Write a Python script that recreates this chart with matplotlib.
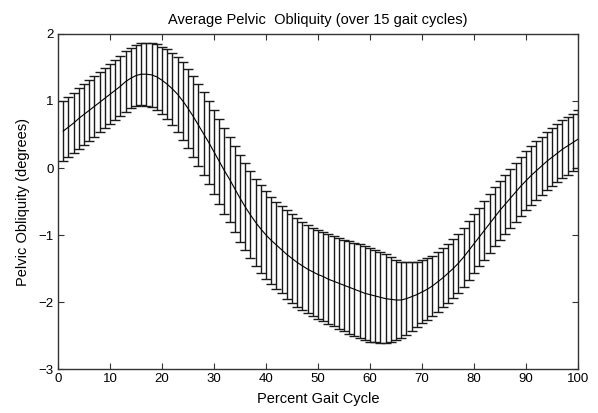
import numpy as np
import matplotlib
matplotlib.use("Agg")
import matplotlib.pyplot as plt

# percent gait cycle, 1..100
pct = list(range(1, 101))

# mean pelvic obliquity (degrees)
mean_obl = [
    0.55, 0.61, 0.67, 0.74, 0.80, 0.86, 0.92, 0.98, 1.04, 1.10,
    1.16, 1.22, 1.29, 1.34, 1.38, 1.40, 1.40, 1.39, 1.36, 1.31,
    1.25, 1.18, 1.10, 1.00, 0.89, 0.77, 0.64, 0.51, 0.38, 0.24,
    0.10, -0.04, -0.17, -0.31, -0.45, -0.58, -0.70, -0.81, -0.91, -1.00,
    -1.08, -1.15, -1.22, -1.29, -1.35, -1.41, -1.46, -1.51, -1.55, -1.59,
    -1.62, -1.66, -1.69, -1.72, -1.75, -1.78, -1.81, -1.84, -1.87, -1.89,
    -1.91, -1.93, -1.95, -1.96, -1.97, -1.97, -1.95, -1.92, -1.89, -1.85,
    -1.81, -1.76, -1.70, -1.64, -1.57, -1.50, -1.42, -1.33, -1.23, -1.13,
    -1.03, -0.93, -0.83, -0.73, -0.63, -0.54, -0.45, -0.36, -0.27, -0.19,
    -0.11, -0.04, 0.03, 0.10, 0.16, 0.22, 0.28, 0.33, 0.38, 0.43,
]

# standard deviation over the 15 cycles
sd_obl = [
    0.45, 0.45, 0.45, 0.45, 0.45, 0.45, 0.45, 0.45, 0.45, 0.45,
    0.45, 0.45, 0.45, 0.45, 0.46, 0.46, 0.47, 0.48, 0.49, 0.50,
    0.52, 0.54, 0.56, 0.58, 0.59, 0.60, 0.61, 0.62, 0.62, 0.63,
    0.63, 0.64, 0.64, 0.64, 0.65, 0.65, 0.65, 0.65, 0.65, 0.65,
    0.65, 0.65, 0.65, 0.66, 0.66, 0.66, 0.66, 0.66, 0.66, 0.67,
    0.67, 0.67, 0.67, 0.68, 0.68, 0.69, 0.69, 0.70, 0.70, 0.70,
    0.69, 0.68, 0.66, 0.63, 0.60, 0.57, 0.54, 0.51, 0.49, 0.47,
    0.46, 0.45, 0.45, 0.44, 0.44, 0.44, 0.44, 0.44, 0.44, 0.44,
    0.44, 0.44, 0.44, 0.44, 0.44, 0.44, 0.44, 0.44, 0.44, 0.44,
    0.44, 0.44, 0.43, 0.43, 0.43, 0.43, 0.43, 0.43, 0.43, 0.43,
]

plt.rcParams["font.family"] = ["Liberation Sans", "DejaVu Sans"]

fig = plt.figure(figsize=(5.98, 4.13), dpi=100)
ax = fig.add_axes([0.097, 0.1065, 0.8696, 0.8112])

ax.errorbar(pct, mean_obl, yerr=sd_obl, color="black", ecolor="#1a1a1a",
            elinewidth=1.0, linewidth=0.8, capsize=3.7, capthick=1.0)

ax.set_xlim(0, 100)
ax.set_ylim(-3, 2)
ax.set_xticks(np.arange(0, 101, 10))
ax.set_yticks(np.arange(-3, 3, 1))
ax.tick_params(direction="in", length=4, width=0.8, top=True, right=True,
               labelsize=9.5, pad=3, colors="#333333", labelcolor="black")
for s in ax.spines.values():
    s.set_linewidth(1.0)
    s.set_color("#333333")

ax.set_title("Average Pelvic  Obliquity (over 15 gait cycles)", fontsize=10.5, pad=7)
ax.set_xlabel("Percent Gait Cycle", fontsize=10.5, labelpad=5)
ax.set_ylabel("Pelvic Obliquity (degrees)", fontsize=10.5, labelpad=6)

fig.savefig("out.png", dpi=100)
